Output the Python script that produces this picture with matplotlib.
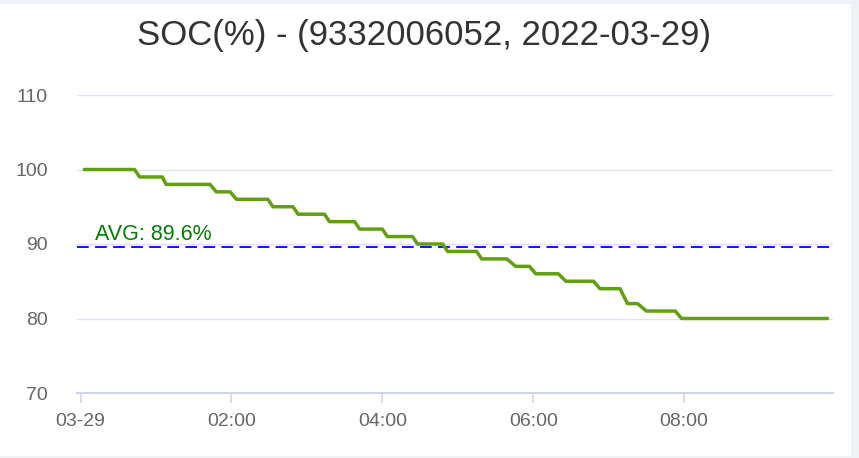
import matplotlib
matplotlib.use("Agg")
import matplotlib.pyplot as plt
from matplotlib.patches import Rectangle

# ---- data ----
times = ["00:03", "00:43", "00:47", "01:05", "01:08", "01:43", "01:48", "01:59",
         "02:04", "02:29", "02:33", "02:49", "02:53", "03:14", "03:18", "03:38",
         "03:42", "04:00", "04:04", "04:24", "04:28", "04:48", "04:52", "05:15",
         "05:19", "05:39", "05:46", "05:57", "06:02", "06:20", "06:26", "06:48",
         "06:53", "07:09", "07:15", "07:23", "07:30", "07:53", "07:58", "09:54"]
soc = [100, 100, 99, 99, 98, 98, 97, 97,
       96, 96, 95, 95, 94, 94, 93, 93,
       92, 92, 91, 91, 90, 90, 89, 89,
       88, 88, 87, 87, 86, 86, 85, 85,
       84, 84, 82, 82, 81, 81, 80, 80]
avg_value = 89.6
title = "SOC(%) - (9332006052, 2022-03-29)"
x_tick_hours = [0, 2, 4, 6, 8]
x_tick_labels = ["03-29", "02:00", "04:00", "06:00", "08:00"]
y_ticks = [70, 80, 90, 100, 110]

def to_hours(s):
    h, m = s.split(":")
    return int(h) + int(m) / 60.0

xs = [to_hours(t) for t in times]

plt.rcParams["font.family"] = ["Liberation Sans", "DejaVu Sans"]

W, H = 859, 458
fig = plt.figure(figsize=(W / 100, H / 100), dpi=100)
fig.patch.set_facecolor("#eef1f6")
bg = Rectangle((0, 1 - 456 / H), 851 / W, (456 - 4) / H,
               transform=fig.transFigure, facecolor="white",
               edgecolor="none", zorder=-10)
fig.add_artist(bg)

x0, x1 = 77, 833
y0, y1 = 95, 393
ax = fig.add_axes([x0 / W, 1 - y1 / H, (x1 - x0) / W, (y1 - y0) / H])
ax.set_zorder(5)
ax.set_facecolor("none")

ax.set_xlim(-2.8 / 60, 598.4 / 60)
ax.set_ylim(70, 110)

for yt in y_ticks[1:]:
    ax.axhline(yt, color="#e0e6f1", lw=1.0, zorder=1)

ax.plot(xs, soc, color="#62a012", lw=2.5, solid_joinstyle="round",
        solid_capstyle="round", zorder=4)

ax.axhline(avg_value, color="#0000ff", lw=1.3, dashes=(6.5, 3.5), zorder=3)
ax.annotate(f"AVG: {avg_value}%", xy=(0.024, avg_value),
            xycoords=("axes fraction", "data"), xytext=(0, 1.5),
            textcoords="offset points", color="#008000", fontsize=15.5,
            ha="left", va="bottom", zorder=5)

for s in ["top", "right", "left"]:
    ax.spines[s].set_visible(False)
ax.spines["bottom"].set_color("#ccd6eb")
ax.spines["bottom"].set_linewidth(1.5)

ax.set_yticks(y_ticks)
ax.set_yticklabels([str(v) for v in y_ticks])
ax.tick_params(axis="y", length=0, pad=21, labelsize=14, labelcolor="#666666")
ax.set_xticks(x_tick_hours)
ax.set_xticklabels(x_tick_labels)
ax.tick_params(axis="x", length=7, width=1.2, color="#ccd6eb", pad=7.5,
               labelsize=14, labelcolor="#666666")

fig.text(424 / W, 1 - 35 / H, title, ha="center", va="center",
         fontsize=25, color="#333333")

fig.savefig("out.png", dpi=100, facecolor=fig.get_facecolor())
